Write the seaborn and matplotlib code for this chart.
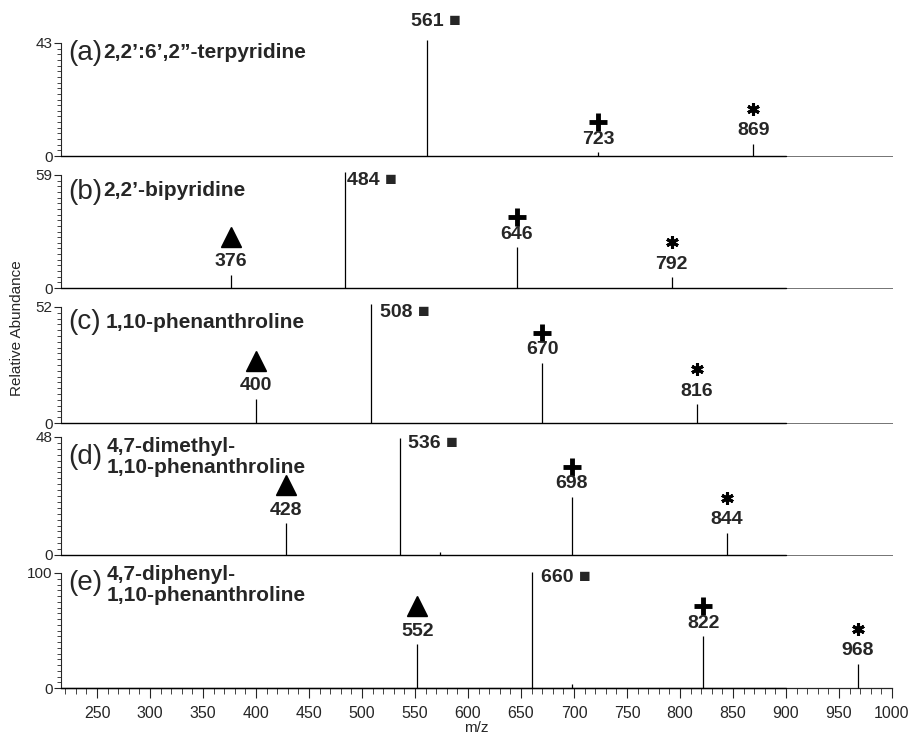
import numpy as np
import pandas as pd
import seaborn as sns
import matplotlib.pyplot as plt
from matplotlib import transforms
from matplotlib.ticker import FixedLocator, MultipleLocator

sns.set_style("ticks")
plt.rcParams['font.family'] = ['Liberation Sans', 'DejaVu Sans']

# data
panel_tags = ['(a)', '(b)', '(c)', '(d)', '(e)']
ligands = ['2,2’:6’,2”-terpyridine',
           '2,2’-bipyridine',
           '1,10-phenanthroline',
           '4,7-dimethyl-\n1,10-phenanthroline',
           '4,7-diphenyl-\n1,10-phenanthroline']
y_max = [43, 59, 52, 48, 100]

peak_mz = [[561, 723, 869],
           [376, 484, 646, 792],
           [400, 508, 670, 816],
           [428, 536, 574, 698, 844],
           [552, 660, 698, 822, 968]]
peak_int = [[44, 1.5, 4.6],
            [6.8, 60.4, 21.4, 5.7],
            [10.8, 53.4, 27, 8.5],
            [13, 47.6, 1.2, 23.6, 9],
            [38, 101, 3.5, 45, 21]]
peak_sym = [['base', 'plus', 'star'],
            ['tri', 'base', 'plus', 'star'],
            ['tri', 'base', 'plus', 'star'],
            ['tri', 'base', '', 'plus', 'star'],
            ['tri', 'base', '', 'plus', 'star']]

rows = []
for i in range(5):
    for mz, h, s in zip(peak_mz[i], peak_int[i], peak_sym[i]):
        rows.append({'panel': i, 'mz': mz, 'intensity': h, 'symbol': s})
df = pd.DataFrame(rows)

# layout (pixels)
W, H = 912, 737
left_px, right_px = 61, 892
panel_px = [(43, 156), (175, 288), (307, 423), (437, 555), (573, 688)]
tag_dy = [10, 17, 15, 20, 10]
name_dy = [10, 15, 16, 20, 12]
name_dx = [42, 42, 45, 46, 46]
base_off = [(-16, 19), (2, -8), (9, -9), (8, -6), (9, -6)]
sym_style = {'tri': dict(marker='^', ms=14, dy=38),
             'plus': dict(marker='+', ms=13, mew=3.5, dy=30),
             'star': dict(marker=(6, 2, 0), ms=9, mew=2.2, dy=35)}

fig = plt.figure(figsize=(W / 100, H / 100), dpi=100)
xmin, xmax = 216, 1000

for i in range(5):
    top, bot = panel_px[i]
    ax = fig.add_axes([left_px / W, 1 - bot / H, (right_px - left_px) / W, (bot - top) / H])
    sub = df[df.panel == i]

    ax.plot([xmin, 900], [0, 0], color='black', lw=1.0, clip_on=False, zorder=3)
    ax.vlines(sub.mz, 0, sub.intensity, color='black', lw=0.9, clip_on=False, zorder=3)

    ax.set_xlim(xmin, xmax)
    ax.set_ylim(0, y_max[i])
    sns.despine(ax=ax, top=True, right=True)

    ax.yaxis.set_major_locator(FixedLocator([0, y_max[i]]))
    ax.yaxis.set_minor_locator(FixedLocator(np.linspace(0, y_max[i], 21)))
    ax.tick_params(axis='y', which='major', length=5, width=0.8, labelsize=11, pad=1)
    ax.tick_params(axis='y', which='minor', length=3, width=0.6)
    ax.spines['left'].set_linewidth(0.8)

    if i < 4:
        ax.spines['bottom'].set_color('0.45')
        ax.spines['bottom'].set_linewidth(0.7)
        ax.tick_params(axis='x', which='both', bottom=False, labelbottom=False)
    else:
        ax.spines['bottom'].set_linewidth(0.9)
        ax.xaxis.set_major_locator(MultipleLocator(50))
        ax.xaxis.set_minor_locator(MultipleLocator(10))
        ax.set_xticks(np.arange(250, 1001, 50))
        ax.tick_params(axis='x', which='major', length=7, width=0.8, labelsize=11.5, pad=6)
        ax.tick_params(axis='x', which='minor', length=4, width=0.6)

    ax.annotate(panel_tags[i], xy=(0, 1), xycoords='axes fraction',
                xytext=(7, -tag_dy[i]), textcoords='offset pixels',
                ha='left', va='center', fontsize=20)
    ax.annotate(ligands[i], xy=(0, 1), xycoords='axes fraction',
                xytext=(name_dx[i], -name_dy[i]), textcoords='offset pixels',
                ha='left', va='center', fontsize=15, fontweight='bold', linespacing=1.1)

    for _, r in sub.iterrows():
        if r.symbol == 'base':
            dx, dy = base_off[i]
            ax.annotate(f'{r.mz} ■', xy=(r.mz, r.intensity), xytext=(dx, dy),
                        textcoords='offset pixels', ha='left', va='center',
                        fontsize=14, fontweight='bold', annotation_clip=False)
        elif r.symbol:
            ax.annotate(f'{r.mz}', xy=(r.mz, r.intensity), xytext=(0, 13),
                        textcoords='offset pixels', ha='center', va='center',
                        fontsize=14, fontweight='bold', annotation_clip=False)
            st = dict(sym_style[r.symbol])
            dy = st.pop('dy')
            tr = transforms.offset_copy(ax.transData, fig=fig, x=0, y=dy, units='dots')
            ax.plot([r.mz], [r.intensity], color='black', linestyle='none',
                    transform=tr, clip_on=False, **st)

fig.text(17 / W, 1 - 328 / H, 'Relative Abundance', rotation=90, ha='center', va='center', fontsize=11)
fig.text(476 / W, 1 - 728 / H, 'm/z', ha='center', va='center', fontsize=11)

fig.savefig('out.png', dpi=100)
